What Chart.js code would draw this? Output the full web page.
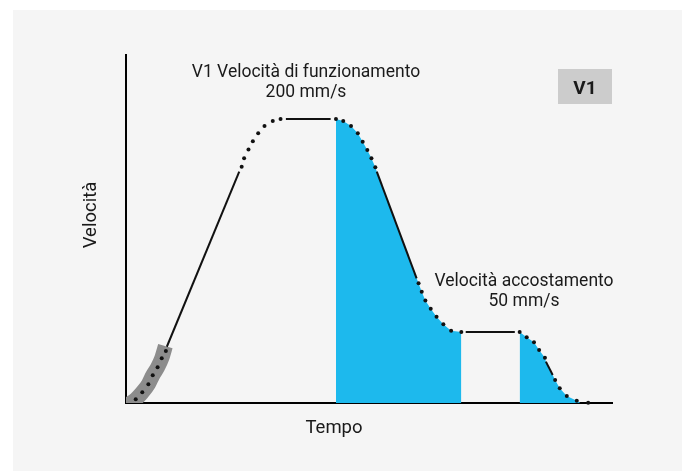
<!DOCTYPE html>
<html>
<head>
<meta charset="utf-8">
<script src="https://cdn.jsdelivr.net/npm/chart.js@4"></script>
<style>
  html, body { margin: 0; padding: 0; background: #fff; }
  #panel { position: absolute; left: 13px; top: 10px; width: 669px; height: 461px; background: #f5f5f5; }
  #wrap { position: absolute; left: 0; top: 0; width: 686px; height: 471px; }
</style>
</head>
<body>
<div id="panel"></div>
<div id="wrap"><canvas id="chart" width="686" height="471"></canvas></div>
<script>
  // tempo (0-100) / velocità (mm/s)
  const bandPoints = [[0.2, -1.5], [2.0, 2.6], [3.35, 7.5], [4.6, 13.2], [5.5, 19.5], [6.5, 25.1], [7.35, 31.5], [8.1, 40]];
  const accelLine = [[8.4, 39.6], [23.3, 162.9]];
  const topLine = [[32.9, 200], [42.1, 200]];
  const decelLine = [[51.6, 162.9], [59.8, 87.8]];
  const approachLine = [[69.9, 50], [80.0, 50]];
  const stopLine = [[86.4, 29.1], [87.8, 19.7]];
  const dottedPoints = [
    [2.0, 2.6], [3.35, 7.5], [4.6, 13.2], [5.5, 19.5], [6.5, 25.1], [7.35, 31.5], [8.2, 36.6],
    [23.8, 166.4], [24.3, 172.3], [25.2, 178.4], [26.1, 184.3], [27.2, 189.9], [28.5, 195.1], [30.2, 198.6], [31.8, 200],
    [43.2, 200], [44.7, 198.6], [46.3, 195.1], [47.7, 189.9], [48.7, 184.0], [49.65, 178.2], [50.5, 172.3], [51.3, 166.0],
    [60.2, 84.3], [60.85, 78.4], [61.6, 72.2], [62.7, 66.4], [63.9, 60.8], [65.3, 55.4], [66.9, 50.9], [69.0, 50],
    [81.0, 50], [82.45, 46.3], [83.95, 42.7], [85.0, 37.3], [86.2, 31.9],
    [88.3, 16.2], [89.25, 10.4], [90.7, 4.9], [92.75, 1.6], [95.1, 0.2]
  ];
  const fillMain = [
    [43.2, 200], [44.7, 198.6], [46.3, 195.1], [47.7, 189.9], [48.7, 184.0], [49.65, 178.2], [50.5, 172.3], [51.3, 166.0],
    [51.6, 162.9], [59.8, 87.8], [60.2, 84.3], [60.85, 78.4], [61.6, 72.2], [62.7, 66.4], [63.9, 60.8], [65.3, 55.4],
    [66.9, 50.9], [69.0, 50]
  ];
  const fillApproach = [
    [81.0, 50], [82.45, 46.3], [83.95, 42.7], [85.0, 37.3], [86.2, 31.9], [86.4, 29.1], [87.8, 19.7],
    [88.3, 16.2], [89.25, 10.4], [90.7, 4.9], [92.75, 1.6], [93.5, 0]
  ];

  const BLUE = "#1db9ed";
  const toXY = (arr) => arr.map(([x, y]) => ({ x, y }));

  function solid(data) {
    return {
      data: toXY(data),
      borderColor: "#111",
      borderWidth: 2,
      pointRadius: 0,
      fill: false,
      order: 2
    };
  }

  // testi e riquadro V1
  const labelsPlugin = {
    id: "labels",
    afterDraw(chart) {
      const ctx = chart.ctx;
      ctx.save();
      ctx.fillStyle = "#1a1a1a";
      ctx.textAlign = "center";
      ctx.textBaseline = "alphabetic";
      ctx.font = "17.5px Roboto";
      ctx.fillText("V1 Velocità di funzionamento", 306, 77);
      ctx.fillText("200 mm/s", 306, 97);
      ctx.fillText("Velocità accostamento", 524, 286);
      ctx.fillText("50 mm/s", 524, 306);
      ctx.font = "18.5px Roboto";
      ctx.fillText("Tempo", 334, 433);
      ctx.save();
      ctx.translate(96, 215);
      ctx.rotate(-Math.PI / 2);
      ctx.fillText("Velocità", 0, 0);
      ctx.restore();

      ctx.fillStyle = "#cccccc";
      ctx.fillRect(558, 69, 54, 35);
      ctx.fillStyle = "#1a1a1a";
      ctx.font = "bold 19px Roboto";
      ctx.fillText("V1", 585, 94);
      ctx.restore();
    }
  };

  new Chart(document.getElementById("chart"), {
    type: "line",
    data: {
      datasets: [
        {
          data: toXY(bandPoints),
          borderColor: "#8c8c8c",
          borderWidth: 15,
          borderCapStyle: "butt",
          borderJoinStyle: "round",
          cubicInterpolationMode: "monotone",
          pointRadius: 0,
          fill: false,
          order: 3
        },
        solid(accelLine),
        solid(topLine),
        solid(decelLine),
        solid(approachLine),
        solid(stopLine),
        {
          data: toXY(dottedPoints),
          showLine: false,
          pointRadius: 2,
          pointBackgroundColor: "#111",
          pointBorderWidth: 0,
          clip: false,
          order: 1
        },
        {
          data: toXY(fillMain),
          borderWidth: 0,
          pointRadius: 0,
          backgroundColor: BLUE,
          fill: "origin",
          order: 4
        },
        {
          data: toXY(fillApproach),
          borderWidth: 0,
          pointRadius: 0,
          backgroundColor: BLUE,
          fill: "origin",
          order: 4
        }
      ]
    },
    options: {
      responsive: false,
      animation: false,
      layout: { padding: { left: 126, right: 74, top: 55, bottom: 68 } },
      plugins: { legend: { display: false }, tooltip: { enabled: false } },
      scales: {
        x: {
          type: "linear",
          min: 0,
          max: 100,
          z: 1,
          grid: { display: false },
          ticks: { display: false },
          border: { display: true, color: "#000", width: 2 },
          afterFit(scale) { scale.height = 0; }
        },
        y: {
          type: "linear",
          min: 0,
          max: 245,
          z: 1,
          grid: { display: false },
          ticks: { display: false },
          border: { display: true, color: "#000", width: 2 },
          afterFit(scale) { scale.width = 0; }
        }
      }
    },
    plugins: [labelsPlugin]
  });
</script>
</body>
</html>
